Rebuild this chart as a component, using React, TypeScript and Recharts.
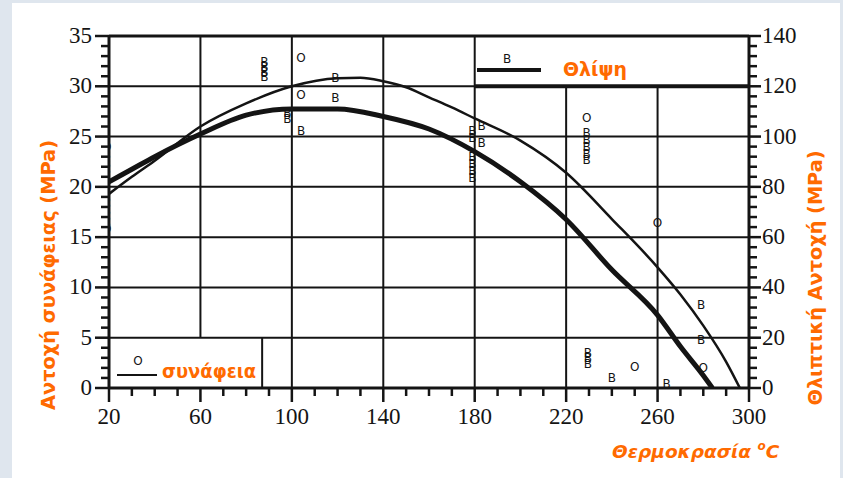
import React from 'react';
import {
  ComposedChart,
  Line,
  Scatter,
  XAxis,
  YAxis,
  ReferenceLine,
} from 'recharts';

// thin curve: bond strength (left axis, MPa)
const bondTemps = [20, 30, 40, 60, 80, 100, 120, 130, 140, 150, 160, 170, 180, 200, 220, 240, 260, 270, 280, 290, 296];
const bondStrength = [19.3, 21.0, 22.6, 26.0, 28.3, 30.0, 30.8, 30.85, 30.5, 29.9, 28.9, 27.9, 26.8, 24.6, 21.4, 16.8, 12.0, 9.3, 6.2, 2.6, 0];

// thick curve: compressive strength (right axis, MPa)
const compTemps = [20, 30, 40, 60, 80, 100, 120, 140, 160, 180, 200, 220, 240, 260, 270, 280, 284];
const compStrength = [82, 87, 92, 101, 108.5, 111, 111, 108, 103, 94, 82, 67, 47, 29, 16.5, 5, 0];

// "O" test points (bond, left axis)
const bondPointTemps = [19, 19, 104, 104, 229, 250, 260, 280];
const bondPointValues = [24.0, 15.8, 32.8, 29.1, 26.8, 2.1, 16.4, 2.0];

// "B" test points (compression, right axis)
const compPointTemps = [
  19, 19, 19, 19, 19, 19, 19, 19, 19,
  88, 88, 88, 88, 98, 98, 104, 119, 119,
  183, 183, 179, 179, 179, 179, 179, 179,
  229, 229, 229, 229, 229, 229.5, 229.5, 229.5,
  240, 264, 279, 279,
];
const compPointValues = [
  92.8, 89.2, 86.8, 84, 75.6, 73.2, 70.4, 68, 65.6,
  129.6, 127.6, 125.6, 123.6, 109.2, 106.8, 102.4, 123.2, 115.2,
  104.4, 97.6, 102.4, 99.6, 92, 89.2, 86.4, 83.6,
  101.6, 98.8, 96, 93.2, 90.8, 14, 12, 9.6,
  4, 1.6, 33.2, 19.2,
];

const xLabels = [20, 60, 100, 140, 180, 220, 260, 300];
const leftLabels = [0, 5, 10, 15, 20, 25, 30, 35];
const rightLabels = [0, 20, 40, 60, 80, 100, 120, 140];

// grid lines, with the span each one is drawn over (boxes of the legends cut some of them)
const gridX: [number, number, number][] = [
  [60, 5, 35],
  [100, 0, 35],
  [140, 0, 35],
  [180, 0, 35],
  [220, 0, 30],
  [260, 0, 30],
  [87, 0, 5],
];
const gridY: [number, number, number][] = [
  [5, 20, 300],
  [10, 20, 300],
  [15, 20, 300],
  [20, 20, 300],
  [25, 20, 300],
  [30, 20, 180],
  [35, 20, 300],
];

const steps = (from: number, to: number, step: number) => {
  const out: number[] = [];
  for (let v = from; v <= to + 1e-9; v += step) out.push(v);
  return out;
};
const xTicks = steps(20, 300, 10);
const leftTicks = steps(0, 35, 1);
const rightTicks = steps(0, 140, 4);

const bondLine = bondTemps.map((t, i) => ({ t, v: bondStrength[i] }));
const compLine = compTemps.map((t, i) => ({ t, v: compStrength[i] }));
const bondPoints = bondPointTemps.map((t, i) => ({ t, v: bondPointValues[i] }));
const compPoints = compPointTemps.map((t, i) => ({ t, v: compPointValues[i] }));

const INK = '#141414';
const ORANGE = '#ff6a00';
const SERIF = 'Liberation Serif';
const SANS = 'DejaVu Sans';

const tickText = { fontFamily: SERIF, fontSize: 23, fill: INK };

const LeftTick = (props: any) => {
  const { x, y, payload } = props;
  const major = leftLabels.includes(payload.value);
  return (
    <g>
      <line x1={x} y1={y} x2={x - (major ? 14 : 8)} y2={y} stroke={INK} strokeWidth={2.5} />
      {major && (
        <text x={x - 17} y={y + 7} textAnchor="end" style={tickText}>
          {payload.value}
        </text>
      )}
    </g>
  );
};

const RightTick = (props: any) => {
  const { x, y, payload } = props;
  const major = rightLabels.includes(payload.value);
  return (
    <g>
      <line x1={x} y1={y} x2={x + (major ? 12 : 8)} y2={y} stroke={INK} strokeWidth={2.5} />
      {major && (
        <text x={x + 13} y={y + 7} textAnchor="start" style={tickText}>
          {payload.value}
        </text>
      )}
    </g>
  );
};

const BottomTick = (props: any) => {
  const { x, y, payload } = props;
  const major = xLabels.includes(payload.value);
  return (
    <g>
      <line x1={x} y1={y} x2={x} y2={y + (major ? 14 : 8)} stroke={INK} strokeWidth={2.5} />
      {major && (
        <text x={x} y={y + 36} textAnchor="middle" style={tickText}>
          {payload.value}
        </text>
      )}
    </g>
  );
};

const letterShape = (ch: string) => (props: any) => {
  const { cx, cy } = props;
  return (
    <text
      x={cx}
      y={cy + 4}
      textAnchor="middle"
      style={{ fontFamily: SANS, fontSize: 12, fill: INK, stroke: 'none' }}
    >
      {ch}
    </text>
  );
};

export default function App() {
  return (
    <div style={{ position: 'fixed', left: 0, top: 0, width: 843, height: 478, background: '#dfe6ee', overflow: 'hidden' }}>
      <div style={{ position: 'absolute', left: 12, top: 3, width: 828, height: 475, background: '#ffffff' }} />
      <div style={{ position: 'absolute', left: 0, top: 0 }}>
        <ComposedChart width={843} height={478} margin={{ top: 36, right: 4, bottom: 30, left: 9 }}>
          <XAxis
            type="number"
            dataKey="t"
            domain={[20, 300]}
            ticks={xTicks}
            interval={0}
            tickSize={0}
            tickMargin={0}
            height={60}
            tick={<BottomTick />}
            axisLine={{ stroke: INK, strokeWidth: 3 }}
            allowDataOverflow
          />
          <YAxis
            yAxisId="left"
            type="number"
            domain={[0, 35]}
            ticks={leftTicks}
            interval={0}
            tickSize={0}
            tickMargin={0}
            width={100}
            tick={<LeftTick />}
            axisLine={{ stroke: INK, strokeWidth: 3 }}
            allowDataOverflow
          />
          <YAxis
            yAxisId="right"
            orientation="right"
            type="number"
            domain={[0, 140]}
            ticks={rightTicks}
            interval={0}
            tickSize={0}
            tickMargin={0}
            width={90}
            tick={<RightTick />}
            axisLine={{ stroke: INK, strokeWidth: 3 }}
            allowDataOverflow
          />

          {gridX.map(([x, y1, y2]) => (
            <ReferenceLine
              key={`gx${x}`}
              yAxisId="left"
              segment={[{ x, y: y1 }, { x, y: y2 }]}
              stroke={INK}
              strokeWidth={2}
            />
          ))}
          {gridY.map(([y, x1, x2]) => (
            <ReferenceLine
              key={`gy${y}`}
              yAxisId="left"
              segment={[{ x: x1, y }, { x: x2, y }]}
              stroke={INK}
              strokeWidth={y === 35 ? 3 : 2}
            />
          ))}
          <ReferenceLine yAxisId="left" segment={[{ x: 180, y: 30 }, { x: 300, y: 30 }]} stroke={INK} strokeWidth={4} />

          <Line
            data={bondLine}
            dataKey="v"
            yAxisId="left"
            type="monotone"
            stroke={INK}
            strokeWidth={2.5}
            dot={false}
            activeDot={false}
            isAnimationActive={false}
          />
          <Line
            data={compLine}
            dataKey="v"
            yAxisId="right"
            type="monotone"
            stroke={INK}
            strokeWidth={5}
            dot={false}
            activeDot={false}
            isAnimationActive={false}
          />
          <Scatter data={bondPoints} dataKey="v" yAxisId="left" shape={letterShape('O')} isAnimationActive={false} />
          <Scatter data={compPoints} dataKey="v" yAxisId="right" shape={letterShape('B')} isAnimationActive={false} />

          {/* legend entries */}
          <g>
            <line x1={117} y1={375} x2={157} y2={375} stroke={INK} strokeWidth={2} />
            <text x={138} y={365} textAnchor="middle" style={{ fontFamily: SANS, fontSize: 12, fill: INK }}>O</text>
            <text
              x={162}
              y={378}
              textLength={94}
              lengthAdjust="spacingAndGlyphs"
              style={{ fontFamily: SANS, fontWeight: 'bold', fontSize: 19, fill: ORANGE }}
            >
              συνάφεια
            </text>
            <line x1={477} y1={70} x2={541} y2={70} stroke={INK} strokeWidth={4} />
            <text x={507} y={63} textAnchor="middle" style={{ fontFamily: SANS, fontSize: 12, fill: INK }}>B</text>
            <text
              x={563}
              y={76}
              textLength={64}
              lengthAdjust="spacingAndGlyphs"
              style={{ fontFamily: SANS, fontWeight: 'bold', fontSize: 19, fill: ORANGE }}
            >
              Θλίψη
            </text>
          </g>

          {/* axis titles */}
          <text
            transform="translate(48 275) rotate(-90)"
            textAnchor="middle"
            dominantBaseline="central"
            textLength={270}
            lengthAdjust="spacingAndGlyphs"
            style={{ fontFamily: SANS, fontWeight: 'bold', fontSize: 19, fill: ORANGE }}
          >
            Αντοχή συνάφειας (MPa)
          </text>
          <text
            transform="translate(815 278) rotate(-90)"
            textAnchor="middle"
            dominantBaseline="central"
            textLength={255}
            lengthAdjust="spacingAndGlyphs"
            style={{ fontFamily: SANS, fontWeight: 'bold', fontSize: 19, fill: ORANGE }}
          >
            Θλιπτική Αντοχή (MPa)
          </text>
          <text
            x={612}
            y={458}
            style={{ fontFamily: SANS, fontWeight: 'bold', fontStyle: 'italic', fontSize: 18.5, fill: ORANGE }}
          >
            Θερμοκρασία <tspan style={{ fontSize: 12 }} dy={-8}>o</tspan><tspan dy={8}>C</tspan>
          </text>
        </ComposedChart>
      </div>
    </div>
  );
}
